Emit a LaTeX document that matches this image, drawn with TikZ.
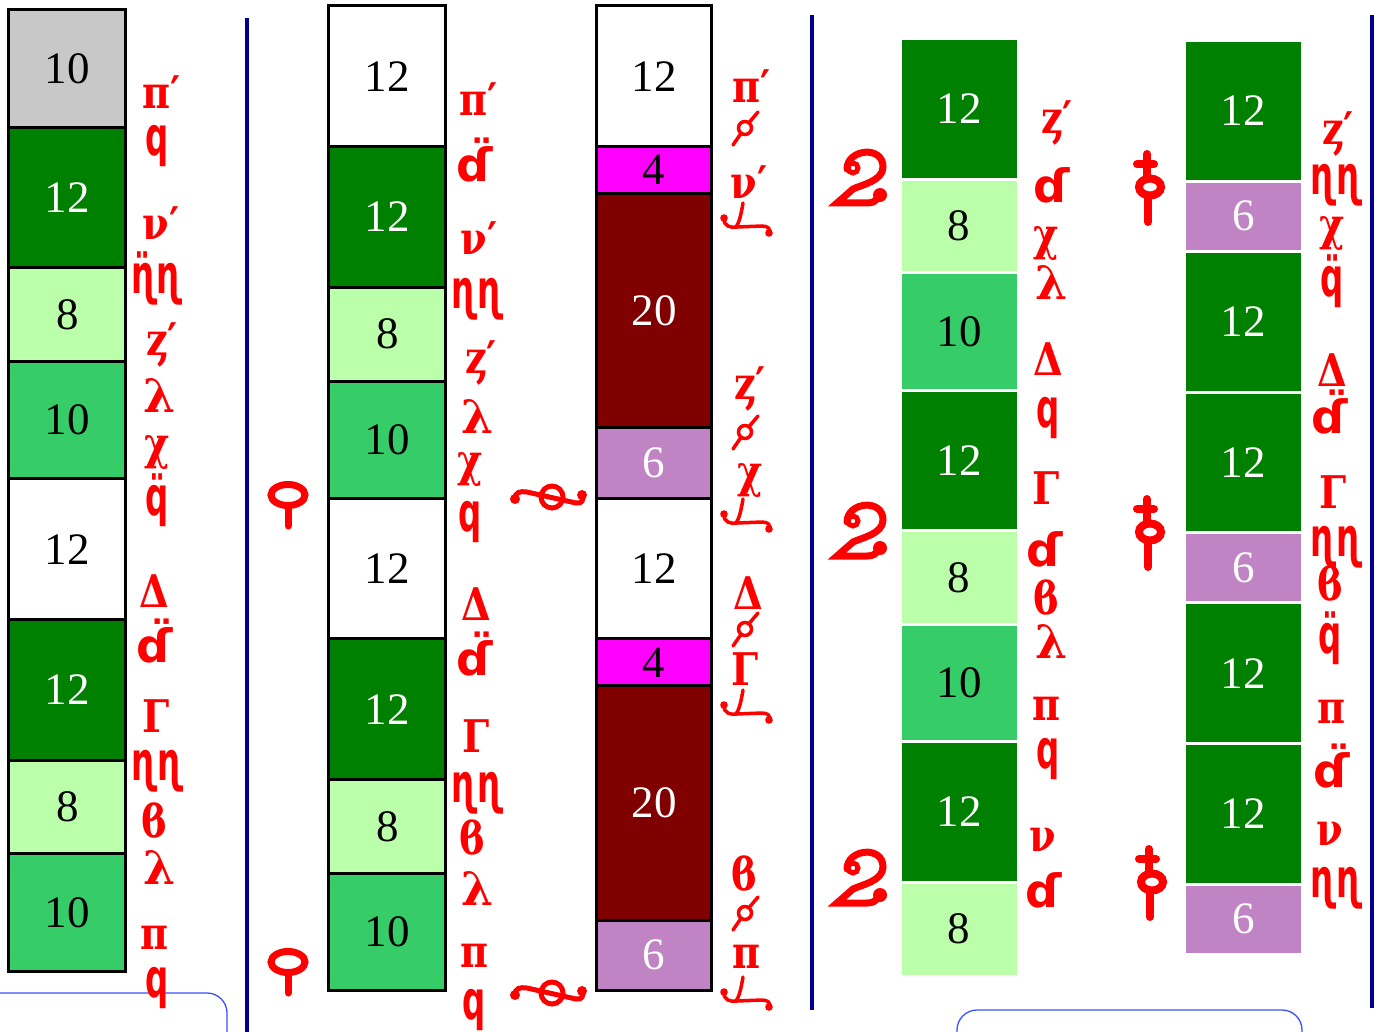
\documentclass[tikz,border=0pt]{standalone}
\usepackage{fontspec}
\usetikzlibrary{positioning}
\setmainfont{Liberation Serif}
\newfontfamily\tonefont{DejaVu Serif}[FakeStretch=0.85]
\newfontfamily\lamfont{DejaVu Serif}
\newfontfamily\martfont{DejaVu Sans}[FakeStretch=0.6]
\newfontfamily\difont{DejaVu Sans}
\newcommand\prm{\rlap{\smash{′}}}

\definecolor{greybox}{RGB}{200,200,200}
\definecolor{dkgreen}{RGB}{0,128,0}
\definecolor{ltgreen}{RGB}{187,255,170}
\definecolor{mdgreen}{RGB}{54,204,104}
\definecolor{magbox}{RGB}{255,0,255}
\definecolor{maroonbox}{RGB}{128,0,0}
\definecolor{lilac}{RGB}{192,132,196}
\definecolor{rulenavy}{RGB}{0,0,140}
\definecolor{frameblue}{RGB}{60,80,255}

\tikzset{
  cell/.style={draw=black, line width=3pt, minimum width=117pt, inner sep=0pt, outer sep=0pt,
    font=\fontsize{45}{45}\selectfont},
  flat/.style={cell, draw=white, minimum width=118pt},
  h12/.style={minimum height=140.6pt}, h10/.style={minimum height=117.2pt},
  h8/.style={minimum height=93.8pt}, h6/.style={minimum height=70.3pt},
  h4/.style={minimum height=46.9pt}, h20/.style={minimum height=234.4pt},
  tone/.style={text=red, inner sep=0pt, font=\tonefont\bfseries\fontsize{45}{45}\selectfont},
  mart/.style={text=red, inner sep=0pt, font=\martfont\bfseries\fontsize{54}{54}\selectfont},
  lam/.style={text=red, inner sep=0pt, font=\lamfont\bfseries\fontsize{46}{46}\selectfont},
  di/.style={text=red, inner sep=0pt, font=\difont\bfseries\fontsize{46}{46}\selectfont},
  koppa/.pic={
    \draw[red, line width=7pt] (0,0) ellipse (17pt and 10.5pt);
    \draw[red, line width=7pt, line cap=round] (0,10.5) -- (0,31);
  },
  clef/.pic={
    \draw[red, line width=5pt] (0,0) circle (11pt);
    \draw[red, line width=5pt] (-37,2) .. controls (-37,-5) and (-32,-6) .. (-25,-5) -- (24,6)
      .. controls (30,7) and (32,3) .. (30,-2);
    \fill[red] (-37,2) circle (5pt) (30,-2) circle (5pt);
  },
  swirl/.pic={
    \draw[red, line width=7pt, line cap=round] (-14,-8) .. controls (-14,-28) and (22,-32) .. (22,-10)
      .. controls (22,4) and (0,8) .. (-8,12) -- (-24,26) -- (6,26) .. controls (12,26) and (15,24) .. (17,20);
    \draw[red, line width=5pt] (-8,-9) circle (5pt);
    \fill[red] (19,18) circle (7pt);
  },
  crossring/.pic={
    \draw[red, line width=8pt] (0,0) ellipse (11pt and 8.5pt);
    \draw[red, line width=8pt, line cap=round] (-3,-8.5) -- (-3,-33) (-13,-23) -- (4,-23) (-2,8.5) -- (-2,35);
  },
  slashring/.pic={
    \draw[red, line width=3.5pt] (0,0) circle (6.5pt);
    \draw[red, line width=3.5pt, line cap=round] (-12,17) -- (-3.9,5.2) (3.9,-5.2) -- (13,-16);
  },
  hook/.pic={
    \draw[red, line width=3.5pt, line cap=round] (-2,-14) .. controls (-4,-2) and (-6,6) .. (-9,10);
    \draw[red, line width=3.5pt] (-21,2) .. controls (-21,9) and (-15,11) .. (-8,10) -- (17,9)
      .. controls (23,9) and (26,12) .. (24,16);
    \fill[red] (-21,1) circle (3.8pt) (24,16) circle (3.8pt);
  }
}

\begin{document}
\begin{tikzpicture}[x=1pt, y=-1pt]
    \useasboundingbox (0,0) rectangle (1378,1032);

    % separating rules
    \draw[rulenavy, line width=3.5pt] (247,18) -- (247,1032);
    \draw[rulenavy, line width=3.5pt] (812,15) -- (812,1010);
    \draw[rulenavy, line width=3.5pt] (1372,15) -- (1372,1008);

    % frames at the foot
    \draw[frameblue, line width=1.3pt, rounded corners=20pt] (-1,993) -- (227,993) -- (227,1034);
    \draw[frameblue, line width=1.3pt, rounded corners=20pt] (957,1034) -- (957,1010) -- (1302,1010) -- (1302,1034);

    % first column
    \node[cell, h10, fill=greybox, anchor=north] (a1) at (67.3,10) {10};
    \node[cell, h12, fill=dkgreen, text=white, below=0pt of a1] (a2) {12};
    \node[cell, h8, fill=ltgreen, below=0pt of a2] (a3) {8};
    \node[cell, h10, fill=mdgreen, below=0pt of a3] (a4) {10};
    \node[cell, h12, fill=white, below=0pt of a4] (a5) {12};
    \node[cell, h12, fill=dkgreen, text=white, below=0pt of a5] (a6) {12};
    \node[cell, h8, fill=ltgreen, below=0pt of a6] (a7) {8};
    \node[cell, h10, fill=mdgreen, below=0pt of a7] (a8) {10};

    \node[tone] (ta1) at (156,97) {π\prm};
    \node[mart] (ma1) at (157,146) {q};
    \node[tone] (ta2) at (156,228) {ν\prm};
    \node[mart] (ma2) at (157,278) {ɳ̈ɳ};
    \node[tone] (ta3) at (157,350) {ȥ\prm};
    \node[lam] (ma3) at (160,395) {λ};
    \node[tone] (ta4) at (157,452) {χ};
    \node[mart] (ma4) at (157,500) {q̈};
    \node[tone] (ta5) at (154,591) {Δ};
    \node[di] (ma5) at (155,641) {ɗ̈};
    \node[tone] (ta6) at (156,716) {Γ};
    \node[mart] (ma6) at (157,771) {ɳɳ};
    \node[tone] (ta7) at (154,821) {ϐ};
    \node[lam] (ma7) at (160,867) {λ};
    \node[tone] (ta8) at (154,938) {π};
    \node[mart] (ma8) at (157,988) {q};

    % second column
    \pic at (288,495) {koppa};
    \pic at (288,962) {koppa};
    \node[cell, h12, fill=white, anchor=north] (b1) at (387.3,6) {12};
    \node[cell, h12, fill=dkgreen, text=white, below=0pt of b1] (b2) {12};
    \node[cell, h8, fill=ltgreen, below=0pt of b2] (b3) {8};
    \node[cell, h10, fill=mdgreen, below=0pt of b3] (b4) {10};
    \node[cell, h12, fill=white, below=0pt of b4] (b5) {12};
    \node[cell, h12, fill=dkgreen, text=white, below=0pt of b5] (b6) {12};
    \node[cell, h8, fill=ltgreen, below=0pt of b6] (b7) {8};
    \node[cell, h10, fill=mdgreen, below=0pt of b7] (b8) {10};

    \node[tone] (tb1) at (473,104) {π\prm};
    \node[di] (mb1) at (475,160) {ɗ̈};
    \node[tone] (tb2) at (474,243) {ν\prm};
    \node[mart] (mb2) at (477,299) {ɳɳ};
    \node[tone] (tb3) at (476,368) {ȥ\prm};
    \node[lam] (mb3) at (478,416) {λ};
    \node[tone] (tb4) at (470,469) {χ};
    \node[mart] (mb4) at (470,522) {q};
    \node[tone] (tb5) at (476,604) {Δ};
    \node[di] (mb5) at (475,654) {ɗ̈};
    \node[tone] (tb6) at (476,736) {Γ};
    \node[mart] (mb6) at (477,793) {ɳɳ};
    \node[tone] (tb7) at (472,838) {ϐ};
    \node[lam] (mb7) at (478,888) {λ};
    \node[tone] (tb8) at (474,956) {π};
    \node[mart] (mb8) at (474,1010) {q};

    % third column
    \pic at (552,497) {clef};
    \pic at (552,993) {clef};
    \node[cell, h12, fill=white, minimum width=115.5pt, anchor=north] (c1) at (654,6) {12};
    \node[cell, h4, fill=magbox, minimum width=115.5pt, below=0pt of c1] (c2) {4};
    \node[cell, h20, fill=maroonbox, text=white, minimum width=115.5pt, below=0pt of c2] (c3) {20};
    \node[cell, h6, fill=lilac, text=white, minimum width=115.5pt, below=0pt of c3] (c4) {6};
    \node[cell, h12, fill=white, minimum width=115.5pt, below=0pt of c4] (c5) {12};
    \node[cell, h4, fill=magbox, minimum width=115.5pt, below=0pt of c5] (c6) {4};
    \node[cell, h20, fill=maroonbox, text=white, minimum width=115.5pt, below=0pt of c6] (c7) {20};
    \node[cell, h6, fill=lilac, text=white, minimum width=115.5pt, below=0pt of c7] (c8) {6};

    \node[tone] (tc1) at (746,91) {π\prm};
    \pic at (745,128) {slashring};
    \node[tone] (tc2) at (744,187) {ν\prm};
    \pic at (745,217) {hook};
    \node[tone] (tc3) at (745,394) {ȥ\prm};
    \pic at (745,432) {slashring};
    \node[tone] (tc4) at (750,480) {χ};
    \pic at (745,513) {hook};
    \node[tone] (tc5) at (748,593) {Δ};
    \pic at (745,629) {slashring};
    \node[tone] (tc6) at (745,669) {Γ};
    \pic at (745,704) {hook};
    \node[tone] (tc7) at (744,874) {ϐ};
    \pic at (745,913) {slashring};
    \node[tone] (tc8) at (746,957) {π};
    \pic at (745,991) {hook};

    % fourth column
    \pic at (861,177) {swirl};
    \pic at (861,530) {swirl};
    \pic at (861,877) {swirl};
    \node[flat, h12, fill=dkgreen, text=white, anchor=north] (d1) at (959,38.5) {12};
    \node[flat, h8, fill=ltgreen, below=0pt of d1] (d2) {8};
    \node[flat, h10, fill=mdgreen, below=0pt of d2] (d3) {10};
    \node[flat, h12, fill=dkgreen, text=white, below=0pt of d3] (d4) {12};
    \node[flat, h8, fill=ltgreen, below=0pt of d4] (d5) {8};
    \node[flat, h10, fill=mdgreen, below=0pt of d5] (d6) {10};
    \node[flat, h12, fill=dkgreen, text=white, below=0pt of d6] (d7) {12};
    \node[flat, h8, fill=ltgreen, below=0pt of d7] (d8) {8};

    \node[tone] (td1) at (1052,128) {ȥ\prm};
    \node[di] (md1) at (1052,185) {ɗ};
    \node[tone] (td2) at (1046,244) {χ};
    \node[lam] (md2) at (1052,282) {λ};
    \node[tone] (td3) at (1048,359) {Δ};
    \node[mart] (md3) at (1048,418) {q};
    \node[tone] (td4) at (1046,488) {Γ};
    \node[di] (md4) at (1045,549) {ɗ};
    \node[tone] (td5) at (1046,598) {ϐ};
    \node[lam] (md5) at (1052,641) {λ};
    \node[tone] (td6) at (1046,709) {π};
    \node[mart] (md6) at (1048,759) {q};
    \node[tone] (td7) at (1043,840) {ν};
    \node[di] (md7) at (1044,890) {ɗ};

    % fifth column
    \pic at (1150,187) {crossring};
    \pic at (1150,532) {crossring};
    \pic at (1152,882) {crossring};
    \draw[green!40!gray, line width=1pt] (1184,39.5) -- (1303,39.5);
    \node[flat, h12, fill=dkgreen, text=white, anchor=north] (e1) at (1243.3,40.5) {12};
    \node[flat, h6, fill=lilac, text=white, below=0pt of e1] (e2) {6};
    \node[flat, h12, fill=dkgreen, text=white, below=0pt of e2] (e3) {12};
    \node[flat, h12, fill=dkgreen, text=white, below=0pt of e3] (e4) {12};
    \node[flat, h6, fill=lilac, text=white, below=0pt of e4] (e5) {6};
    \node[flat, h12, fill=dkgreen, text=white, below=0pt of e5] (e6) {12};
    \node[flat, h12, fill=dkgreen, text=white, below=0pt of e6] (e7) {12};
    \node[flat, h6, fill=lilac, text=white, below=0pt of e7] (e8) {6};

    \node[tone] (te1) at (1333,139) {ȥ\prm};
    \node[mart] (me1) at (1336,185) {ɳɳ};
    \node[tone] (te2) at (1332,234) {χ};
    \node[mart] (me2) at (1332,281) {q̈};
    \node[tone] (te3) at (1332,370) {Δ};
    \node[di] (me3) at (1330,412) {ɗ̈};
    \node[tone] (te4) at (1333,492) {Γ};
    \node[mart] (me4) at (1336,547) {ɳɳ};
    \node[tone] (te5) at (1330,584) {ϐ};
    \node[mart] (me5) at (1330,638) {q̈};
    \node[tone] (te6) at (1331,712) {π};
    \node[di] (me6) at (1332,766) {ɗ̈};
    \node[tone] (te7) at (1330,834) {ν};
    \node[mart] (me7) at (1336,888) {ɳɳ};
\end{tikzpicture}
\end{document}
